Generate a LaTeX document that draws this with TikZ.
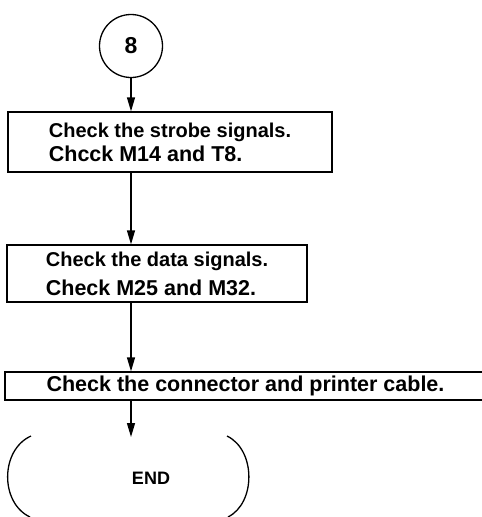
\documentclass[tikz,border=0pt]{standalone}
\usepackage{fontspec}
\setmainfont{Liberation Sans}
\usetikzlibrary{arrows.meta,positioning,calc}
\tikzset{
  stepbox/.style={draw, line width=1.3pt, align=left, inner sep=0pt,
                  font=\bfseries\fontsize{20}{24}\selectfont},
  connbox/.style={draw, circle, line width=1.3pt, minimum size=63pt,
                  inner sep=0pt, font=\bfseries\fontsize{23}{24}\selectfont},
  arr/.style    ={-{Triangle[length=14pt,width=8pt]}, line width=1.3pt},
  termline/.style={line width=1.3pt},
}

\begin{document}
\begin{tikzpicture}[x=1pt,y=-1pt]
  \useasboundingbox (0,0) rectangle (482,517);
  % connector from the previous page
  \node[connbox] (c8) at (131,46) {8};
  % check steps
  \node[stepbox, minimum width=324pt, minimum height=60pt] (s1) at (170,142)
    {Check the strobe signals.\\
     {\fontsize{21.5}{24}\selectfont Chcck M14 and T8.}};
  \node[stepbox, minimum width=300pt, minimum height=57pt] (s2) at (157,273.5)
    {Check the data signals.\\[5pt]
     {\fontsize{21.5}{24}\selectfont Check M25 and M32.}};
  \node[stepbox, minimum width=481pt, minimum height=28pt,
        font=\bfseries\fontsize{21.5}{24}\selectfont] (s3) at (245.5,386)
    {Check the connector and printer cable.};
  % terminal
  \coordinate (et) at (131,437);
  \node[font=\bfseries\fontsize{18}{20}\selectfont] (en) at (151,478) {END};
  \draw[termline] (31,436) .. controls (0,450) and (0,503) .. (30,517);
  \draw[termline] (227,436) .. controls (256,450) and (256,503) .. (228,517);
  % flow
  \draw[arr] (c8.south) -- (c8.south |- s1.north);
  \draw[arr] (c8 |- s1.south) -- (c8 |- s2.north);
  \draw[arr] (c8 |- s2.south) -- (c8 |- s3.north);
  \draw[arr] (c8 |- s3.south) -- (et);
\end{tikzpicture}
\end{document}
